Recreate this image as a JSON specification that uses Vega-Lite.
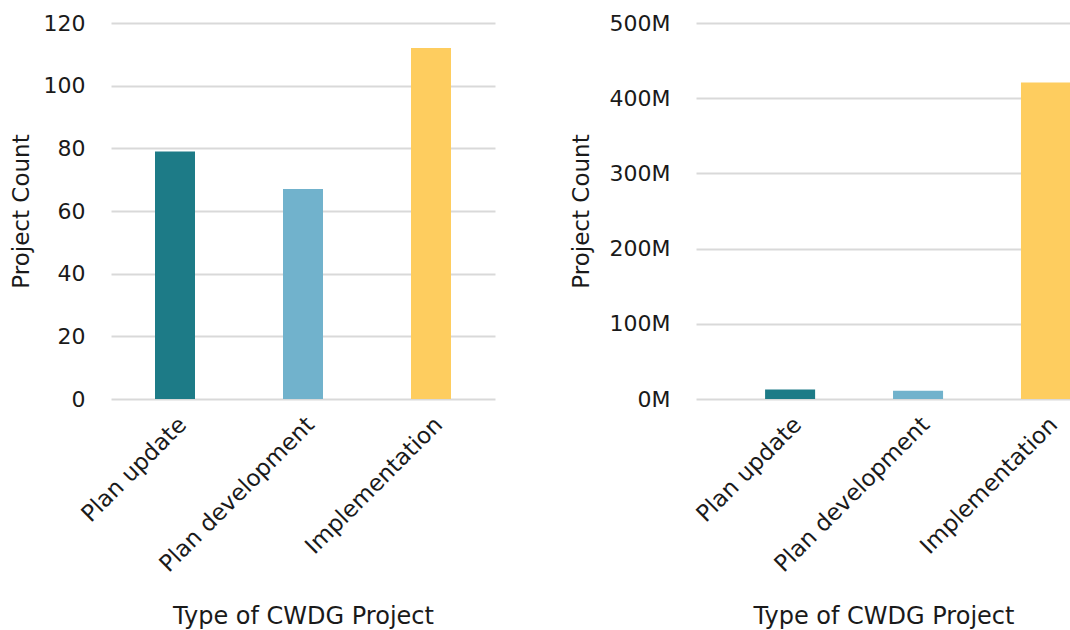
{
  "$schema": "https://vega.github.io/schema/vega-lite/v6.json",
  "padding": {"top": 12, "left": 10, "right": 0, "bottom": 0},
  "background": "white",
  "datasets": {
    "counts": [
      {"type": "Plan update", "count": 79},
      {"type": "Plan development", "count": 67},
      {"type": "Implementation", "count": 112}
    ],
    "amounts": [
      {"type": "Plan update", "amount": 12500000},
      {"type": "Plan development", "amount": 11000000},
      {"type": "Implementation", "amount": 421000000}
    ]
  },
  "spacing": 75,
  "hconcat": [
    {
      "width": 384,
      "height": 376,
      "data": {"name": "counts"},
      "mark": {"type": "bar"},
      "encoding": {
        "x": {
          "field": "type", "type": "nominal", "sort": null,
          "title": "Type of CWDG Project",
          "scale": {"paddingInner": 0.6875, "paddingOuter": 0.34375},
          "axis": {"labelAngle": -45, "grid": false}
        },
        "y": {
          "field": "count", "type": "quantitative",
          "title": "Project Count",
          "scale": {"domain": [0, 120]},
          "axis": {"values": [0, 20, 40, 60, 80, 100, 120], "titlePadding": 10}
        },
        "color": {
          "field": "type", "type": "nominal", "legend": null,
          "scale": {"domain": ["Plan update", "Plan development", "Implementation"], "range": ["#1d7b87", "#71b2cc", "#fecd5f"]}
        }
      }
    },
    {
      "width": 375,
      "height": 376,
      "data": {"name": "amounts"},
      "mark": {"type": "bar"},
      "encoding": {
        "x": {
          "field": "type", "type": "nominal", "sort": null,
          "title": "Type of CWDG Project",
          "scale": {"paddingInner": 0.609, "paddingOuter": 0.27, "align": 1},
          "axis": {"labelAngle": -45, "grid": false}
        },
        "y": {
          "field": "amount", "type": "quantitative",
          "title": "Project Count",
          "scale": {"domain": [0, 500000000]},
          "axis": {"values": [0, 100000000, 200000000, 300000000, 400000000, 500000000], "labelExpr": "(datum.value / 1000000) + 'M'", "titlePadding": 16}
        },
        "color": {
          "field": "type", "type": "nominal", "legend": null,
          "scale": {"domain": ["Plan update", "Plan development", "Implementation"], "range": ["#1d7b87", "#71b2cc", "#fecd5f"]}
        }
      }
    }
  ],
  "resolve": {"scale": {"color": "independent"}},
  "config": {
    "font": "DejaVu Sans",
    "view": {"stroke": null},
    "axis": {
      "domain": false,
      "ticks": false,
      "labelFont": "DejaVu Sans",
      "titleFont": "DejaVu Sans",
      "labelFontSize": 22,
      "titleFontSize": 23,
      "titleFontWeight": "normal",
      "labelColor": "#1a1a1a",
      "titleColor": "#1a1a1a",
      "labelLimit": 0,
      "gridColor": "#d9d9d9",
      "gridWidth": 2
    },
    "axisY": {"labelPadding": 26},
    "axisX": {"labelPadding": 14, "titlePadding": 28, "labelFontSize": 23, "titleFontSize": 24}
  }
}
